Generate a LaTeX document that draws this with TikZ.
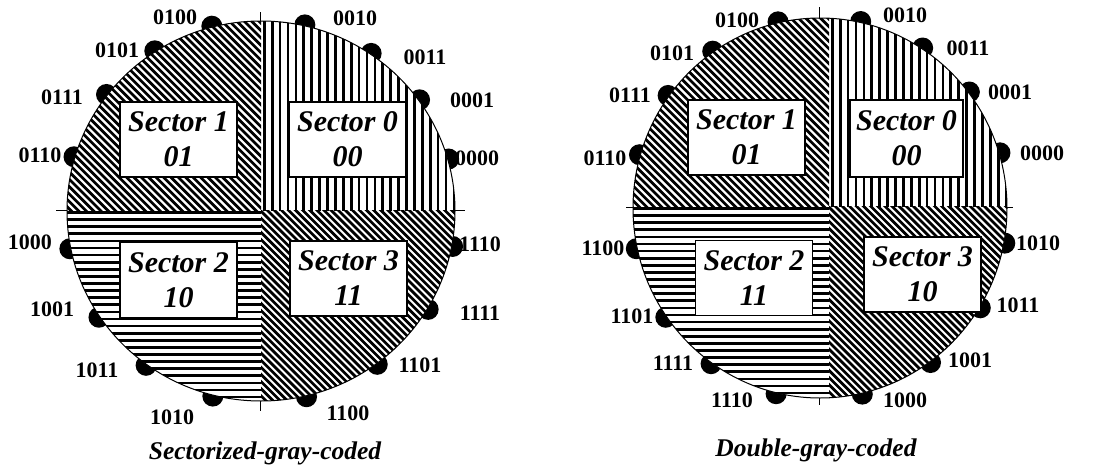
\documentclass[tikz,border=0pt]{standalone}
\usepackage{fontspec}
\setmainfont{Liberation Serif}
\usetikzlibrary{calc}

% Hatched constellation disk: #1,#2 centre, #3,#4 radii, #5,#6 sector divide point
\newcommand\hatchdisk[6]{%
  \fill[white] (#1,#2) ellipse [x radius=#3, y radius=#4];
  \begin{scope}
    \clip (#1,#2) ellipse [x radius=#3, y radius=#4];
    % upper right: vertical lines
    \begin{scope}
      \clip (#5,#6) rectangle (#1+#3+10,#2-#4-10);
      \foreach \t in {-210,-202.1,...,210}
        \draw[hatchline] (#5+\t,#2-#4-10) -- (#5+\t,#2+#4+10);
    \end{scope}
    % upper left: back-slanted lines
    \begin{scope}
      \clip (#5,#6) rectangle (#1-#3-10,#2-#4-10);
      \foreach \t in {-420,-412.6,...,420}
        \draw[hatchline] (#5+\t-220,#6-220) -- (#5+\t+220,#6+220);
    \end{scope}
    % lower left: horizontal lines
    \begin{scope}
      \clip (#5,#6) rectangle (#1-#3-10,#2+#4+10);
      \foreach \t in {2.5,9.6,...,220}
        \draw[hatchline] (#1-#3-10,#6+\t) -- (#1+#3+10,#6+\t);
    \end{scope}
    % lower right: denser back-slanted lines
    \begin{scope}
      \clip (#5,#6) rectangle (#1+#3+10,#2+#4+10);
      \foreach \t in {-420,-412.9,...,420}
        \draw[hatchline] (#5+\t-220,#6-220) -- (#5+\t+220,#6+220);
    \end{scope}
  \end{scope}
  \draw[line width=1pt] (#1,#2) ellipse [x radius=#3, y radius=#4];
}

\begin{document}
\begin{tikzpicture}[x=1pt,y=-1pt,
  hatchline/.style={line width=2.7pt},
  axisline/.style={line width=1pt},
  bit/.style={font=\fontsize{22}{22}\selectfont\bfseries, inner sep=0pt},
  dot/.style={circle, fill=black, minimum size=21pt, inner sep=0pt},
  sectorbox/.style={draw, line width=1.2pt, fill=white, minimum width=117pt,
    minimum height=75pt, inner sep=0pt, align=center,
    font=\fontsize{30}{35}\selectfont\bfseries\itshape},
  caption/.style={font=\fontsize{25.5}{26}\selectfont\bfseries\itshape, inner sep=0pt}]
\useasboundingbox (0,0) rectangle (1095,471);

% ---------------- Sectorized-gray-coded ----------------
\draw[axisline] (56,210) -- (465,210);
\draw[axisline] (260,12) -- (260,411);
\foreach \ang/\code/\lx/\ly in {
  15.8/0000/477/158, 35.6/0001/472/100, 55.6/0011/425/57, 77/0010/355/18,
  104.6/0100/175/17, 123/0101/117/50, 142.4/0111/62/97, 163.5/0110/40/155,
  191.4/1000/30/242, 213.8/1001/52/309, 233.9/1011/97/370, 255.7/1010/172/417,
  283.5/1100/348/413, 306.6/1101/420/365, 329/1111/480/313, 349.3/1110/480/244}{
  \node[dot] (Ldot\code) at ($(261,211)+(\ang:195pt and 191pt)$) {};
  \node[bit] (Lbit\code) at (\lx,\ly) {\code};
}
\hatchdisk{261}{211}{194}{190}{261}{210}
\node[sectorbox] (Lsec1) at (178.5,139.5) {Sector 1\\01};
\node[sectorbox] (Lsec0) at (347.5,139.5) {Sector 0\\00};
\node[sectorbox] (Lsec2) at (178.5,280) {Sector 2\\10};
\node[sectorbox] (Lsec3) at (348.5,278.5) {Sector 3\\11};
\node[caption] (Lcap) at (265,453) {Sectorized-gray-coded};

% ---------------- Double-gray-coded ----------------
\draw[axisline] (626,207) -- (1013,207);
\draw[axisline] (819,7) -- (819,405);
\foreach \ang/\code/\lx/\ly in {
  16.8/0000/1042/153, 37.4/0001/1010/92, 56.9/0011/968/48, 77.5/0010/905/15,
  102.9/0100/737/20, 124.8/0101/672/53, 143.9/0111/630/95, 163.8/0110/605/158,
  192.3/1100/603/248, 214.9/1101/632/316, 234.6/1111/673/363, 256.5/1110/732/400,
  283/1000/905/400, 306/1001/970/360, 328.5/1011/1018/305, 349.4/1010/1038/243}{
  \node[dot] (Rdot\code) at ($(820,208)+(\ang:188pt and 191pt)$) {};
  \node[bit] (Rbit\code) at (\lx,\ly) {\code};
}
\hatchdisk{820}{208}{187}{190}{829}{206}
\node[sectorbox] (Rsec1) at (746.5,137.5) {Sector 1\\01};
\node[sectorbox, minimum width=113pt, minimum height=77pt] (Rsec0) at (906.5,138.5) {Sector 0\\00};
\node[sectorbox] (Rsec2) at (754,278) {Sector 2\\11};
\node[sectorbox] (Rsec3) at (922.5,274.5) {Sector 3\\10};
\node[caption] (Rcap) at (816,450) {Double-gray-coded};
\end{tikzpicture}
\end{document}
